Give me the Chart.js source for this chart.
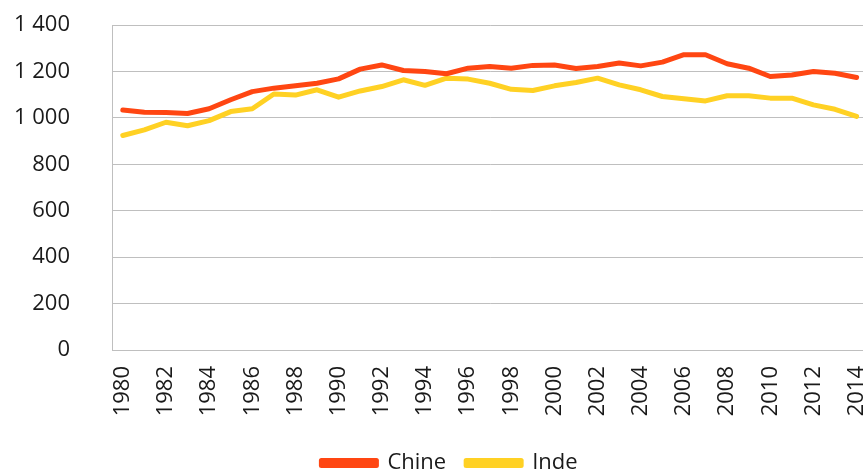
<!DOCTYPE html>
<html>
<head>
<meta charset="utf-8">
<script src="https://cdn.jsdelivr.net/npm/chart.js@4"></script>
<style>
  html, body { margin: 0; padding: 0; background: #fff; }
  #cadre { width: 863px; height: 473px; overflow: hidden; }
</style>
</head>
<body>
<div id="cadre">
  <canvas id="graphique" width="899" height="484"></canvas>
</div>
<script>
// années 1980 -> 2014
const annees = [1980, 1981, 1982, 1983, 1984, 1985, 1986, 1987, 1988, 1989,
  1990, 1991, 1992, 1993, 1994, 1995, 1996, 1997, 1998, 1999,
  2000, 2001, 2002, 2003, 2004, 2005, 2006, 2007, 2008, 2009,
  2010, 2011, 2012, 2013, 2014];

const chine = [1034, 1024, 1023, 1019, 1039, 1078, 1113, 1128, 1138, 1149,
  1168, 1210, 1228, 1204, 1200, 1190, 1214, 1221, 1214, 1226,
  1228, 1213, 1221, 1236, 1224, 1240, 1272, 1272, 1233, 1214,
  1178, 1185, 1200, 1192, 1174];

const inde = [924, 948, 981, 966, 988, 1027, 1039, 1103, 1098, 1121,
  1089, 1116, 1135, 1164, 1140, 1171, 1167, 1149, 1123, 1118,
  1138, 1152, 1171, 1142, 1121, 1092, 1082, 1073, 1095, 1095,
  1085, 1085, 1056, 1037, 1006];

const graduations = [0, 200, 400, 600, 800, 1000, 1200, 1400];

function formatNombre(v) {
  if (v >= 1000) {
    return Math.floor(v / 1000) + ' ' + String(v % 1000).padStart(3, '0');
  }
  return String(v);
}

const police = "'Open Sans', sans-serif";
const gris = '#BFBFBF';

const ctx = document.getElementById('graphique').getContext('2d');

new Chart(ctx, {
  type: 'line',
  data: {
    labels: annees,
    datasets: [
      {
        label: 'Chine',
        data: chine,
        borderColor: '#FF4612',
        backgroundColor: '#FF4612',
        borderWidth: 5,
        pointRadius: 0,
        tension: 0,
        borderJoinStyle: 'round',
        borderCapStyle: 'round'
      },
      {
        label: 'Inde',
        data: inde,
        borderColor: '#FFD124',
        backgroundColor: '#FFD124',
        borderWidth: 5,
        pointRadius: 0,
        tension: 0,
        borderJoinStyle: 'round',
        borderCapStyle: 'round'
      }
    ]
  },
  options: {
    responsive: false,
    animation: false,
    devicePixelRatio: 1,
    layout: {
      padding: { top: 25, left: 0, right: 0, bottom: 0 }
    },
    scales: {
      x: {
        type: 'category',
        offset: true,
        grid: { display: false, drawTicks: false },
        border: { display: true, color: gris, width: 1 },
        ticks: {
          autoSkip: false,
          minRotation: 90,
          maxRotation: 90,
          padding: 16,
          color: '#1a1a1a',
          font: { family: police, size: 22 },
          callback: function (val, i) {
            return i % 2 === 0 ? String(annees[i]) : '';
          }
        },
        afterFit: function (scale) { scale.height = 82; }
      },
      y: {
        min: 0,
        max: 1400,
        afterBuildTicks: function (scale) {
          scale.ticks = graduations.map(v => ({ value: v }));
        },
        grid: { color: gris, lineWidth: 1, drawTicks: false },
        border: { display: true, color: gris, width: 1 },
        ticks: {
          padding: 42,
          color: '#1a1a1a',
          font: { family: police, size: 22 },
          callback: function (v) { return formatNombre(v); }
        },
        afterFit: function (scale) {
          scale.width = 112;
          scale.paddingTop = 0;
          scale.paddingBottom = 0;
        }
      }
    },
    plugins: {
      legend: {
        position: 'bottom',
        labels: {
          boxWidth: 55,
          boxHeight: 5,
          padding: 20,
          color: '#1a1a1a',
          font: { family: police, size: 22 }
        }
      },
      tooltip: { enabled: false }
    }
  }
});
</script>
</body>
</html>
